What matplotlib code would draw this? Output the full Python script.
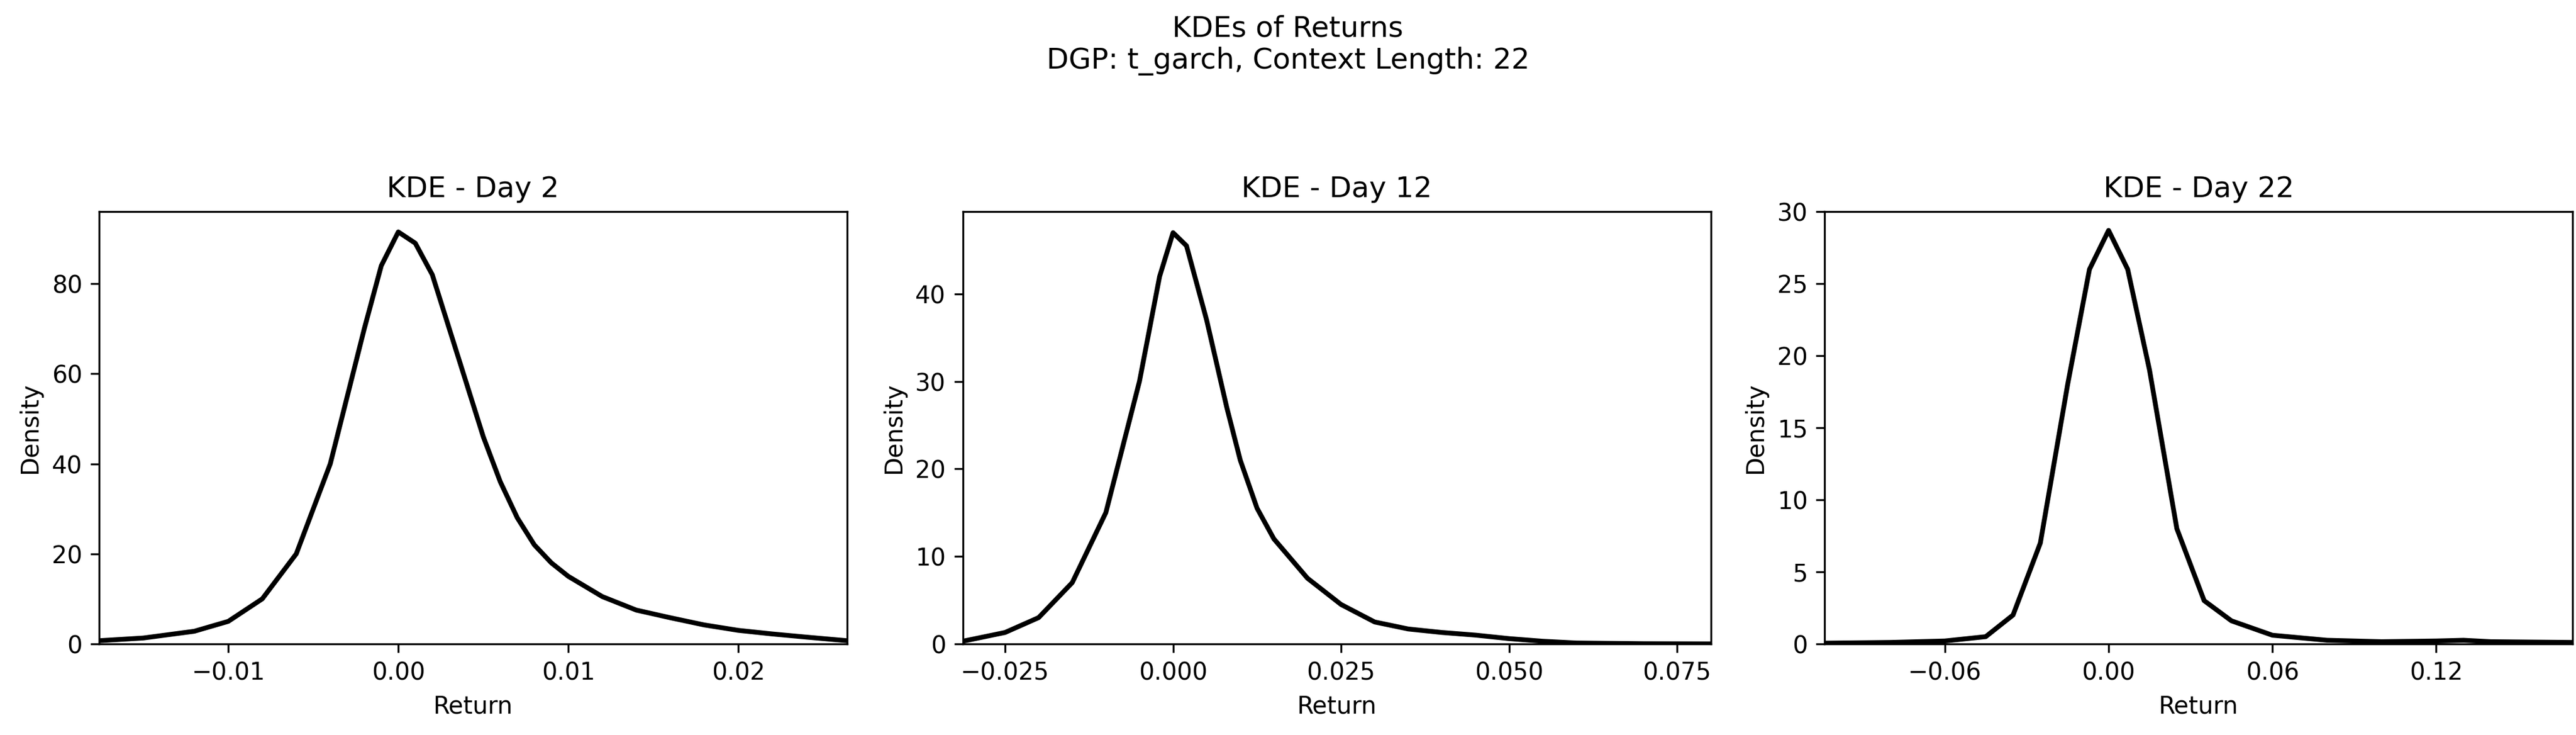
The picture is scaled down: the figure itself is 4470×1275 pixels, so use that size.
import matplotlib
matplotlib.use("Agg")
import matplotlib.pyplot as plt

titles = ["KDE - Day 2", "KDE - Day 12", "KDE - Day 22"]
x1 = [-0.0176,-0.015,-0.012,-0.01,-0.008,-0.006,-0.004,-0.003,-0.002,-0.001,0.0,0.001,0.002,0.003,0.004,0.005,0.006,0.007,0.008,0.009,0.010,0.012,0.014,0.016,0.018,0.020,0.022,0.024,0.0264]
y1 = [0.7,1.3,2.8,5,10,20,40,55,70,84,91.5,89,82,70,58,46,36,28,22,18,15,10.5,7.5,5.8,4.2,3,2.2,1.5,0.7]
x2 = [-0.0313,-0.025,-0.02,-0.015,-0.01,-0.005,-0.002,0.0,0.002,0.005,0.008,0.01,0.0125,0.015,0.02,0.025,0.03,0.035,0.04,0.045,0.05,0.055,0.06,0.07,0.080]
y2 = [0.3,1.3,3,7,15,30,42,47,45.5,37,27,21,15.5,12,7.5,4.5,2.5,1.7,1.3,1.0,0.6,0.3,0.1,0.02,0.0]
x3 = [-0.104,-0.08,-0.06,-0.045,-0.035,-0.025,-0.015,-0.007,0.0,0.007,0.015,0.025,0.035,0.045,0.06,0.08,0.1,0.12,0.13,0.14,0.17]
y3 = [0.05,0.1,0.2,0.5,2,7,18,26,28.7,26,19,8,3,1.6,0.6,0.25,0.15,0.2,0.25,0.15,0.1]
xs = [x1, x2, x3]
ys = [y1, y2, y3]
xlims = [(-0.0176, 0.0264), (-0.0313, 0.080), (-0.104, 0.170)]
ylims = [(0, 96), (0, 49.4), (0, 30)]
xticks = [[-0.01, 0.0, 0.01, 0.02], [-0.025, 0.0, 0.025, 0.05, 0.075], [-0.06, 0.0, 0.06, 0.12]]
xticklabels = [["−0.01", "0.00", "0.01", "0.02"], ["−0.025", "0.000", "0.025", "0.050", "0.075"], ["−0.06", "0.00", "0.06", "0.12"]]

fig = plt.figure(figsize=(14.9, 4.25), dpi=300)
lefts = [60/1560, 583/1560, 1105/1560]
w = 453/1560
for i in range(3):
    ax = fig.add_axes([lefts[i], 0.124, w, 0.588])
    ax.plot(xs[i], ys[i], color="black", lw=2)
    ax.set_xlim(*xlims[i]); ax.set_ylim(*ylims[i])
    ax.set_xticks(xticks[i]); ax.set_xticklabels(xticklabels[i])
    ax.set_title(titles[i], fontsize=12)
    ax.set_xlabel("Return"); ax.set_ylabel("Density")
fig.suptitle("KDEs of Returns\nDGP: t_garch, Context Length: 22", fontsize=12, y=0.98)
fig.savefig("out.png", dpi=300)
